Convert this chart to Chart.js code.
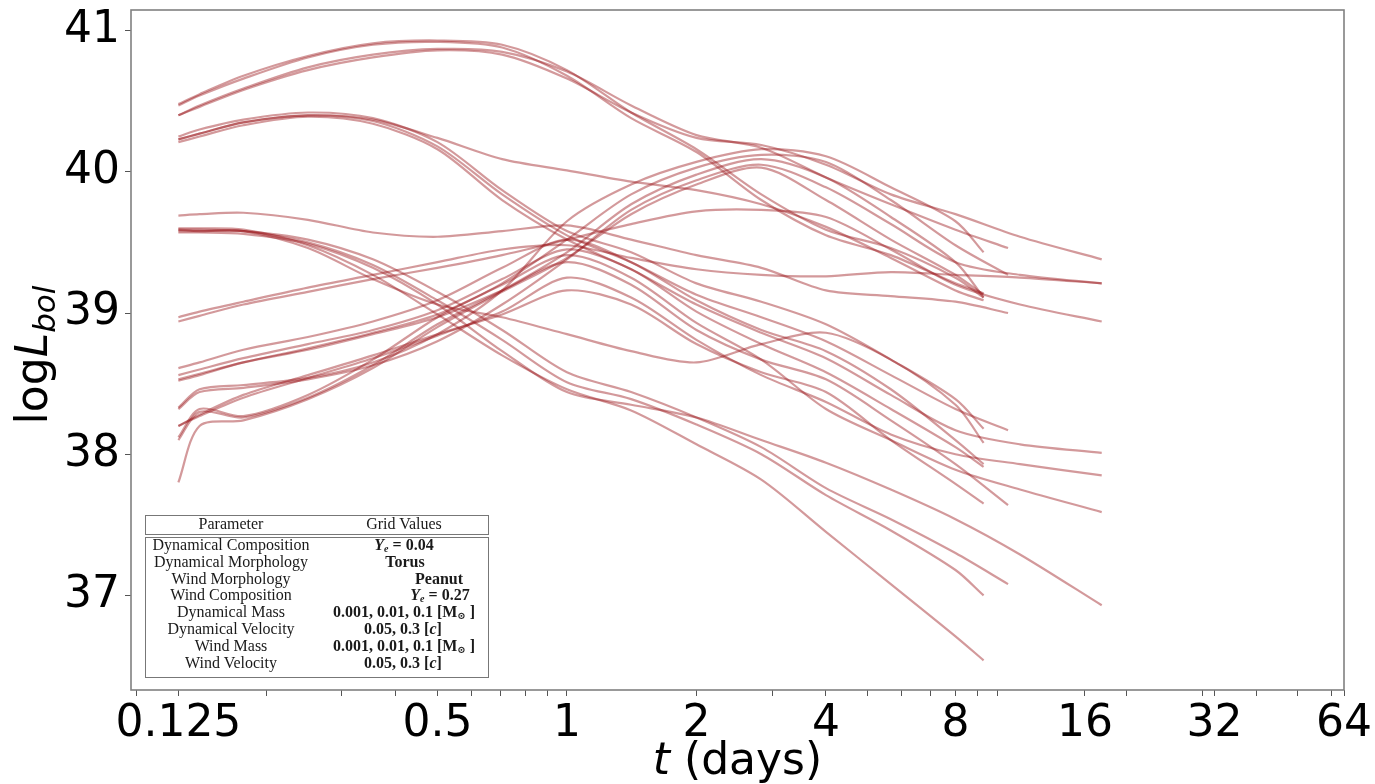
<!DOCTYPE html>
<html>
<head>
<meta charset="utf-8">
<script src="https://cdn.jsdelivr.net/npm/chart.js@4.4.0/dist/chart.umd.min.js"></script>
<style>
  html, body { margin: 0; padding: 0; background: #fff; }
  #wrap { position: relative; width: 1375px; height: 784px; overflow: hidden; }
  #lc { position: absolute; left: 0; top: 0; }
  #table { position: absolute; left: 0; top: 0; font-family: "Liberation Serif", "DejaVu Serif", serif; font-size: 16px; color: #1a1a1a; }
  .box { position: absolute; border: 1px solid #777; box-sizing: border-box; background: #fff; }
  .cell { position: absolute; transform: translate(-50%, -50%); white-space: nowrap; line-height: 1; }
  .cell sub { font-size: 10px; vertical-align: -2px; }
</style>
</head>
<body>
<div id="wrap">
  <canvas id="lc" width="1375" height="784"></canvas>
  <div id="table"></div>
</div>
<script>
// time grids (days) for the three run lengths
const tShort = [0.125, 0.14, 0.177, 0.25, 0.354, 0.5, 0.707, 1, 1.41, 2, 2.83, 4, 5.66, 8, 9.3];
const tMid   = [0.125, 0.14, 0.177, 0.25, 0.354, 0.5, 0.707, 1, 1.41, 2, 2.83, 4, 5.66, 8, 10.6];
const tLong  = [0.125, 0.14, 0.177, 0.25, 0.354, 0.5, 0.707, 1, 1.41, 2, 2.83, 4, 5.66, 8, 11.3, 17.5];

// log L_bol
const curvesShort = [
  [40.48,40.55,40.68,40.82,40.91,40.93,40.90,40.72,40.42,40.16,39.84,39.59,39.46,39.25,39.11],
  [40.47,40.54,40.66,40.81,40.90,40.92,40.88,40.68,40.38,40.14,39.80,39.55,39.41,39.21,39.14],
  [38.33,38.46,38.49,38.54,38.65,38.85,39.16,39.65,39.91,40.07,40.16,40.11,39.89,39.65,39.43],
  [38.10,38.30,38.26,38.40,38.63,38.92,39.16,39.43,39.77,39.98,40.09,39.96,39.68,39.36,39.11],
  [37.80,38.20,38.24,38.39,38.61,38.90,39.15,39.39,39.70,39.91,40.03,39.80,39.52,39.27,39.13],
  [40.23,40.27,40.35,40.40,40.37,40.24,40.09,40.01,39.93,39.87,39.77,39.61,39.39,39.16,39.09],
  [40.25,40.30,40.37,40.42,40.38,40.21,39.87,39.58,39.43,39.21,39.08,38.92,38.67,38.39,38.18],
  [39.59,39.58,39.58,39.46,39.24,39.06,38.97,38.85,38.73,38.65,38.78,38.86,38.67,38.35,38.08],
  [38.61,38.65,38.74,38.83,38.94,39.09,39.32,39.52,39.36,39.09,38.88,38.73,38.46,38.10,37.93],
  [38.56,38.60,38.68,38.78,38.88,39.02,39.24,39.45,39.31,39.01,38.78,38.58,38.32,38.05,37.91],
  [38.20,38.28,38.42,38.56,38.70,38.85,38.99,39.16,39.06,38.78,38.58,38.44,38.10,37.79,37.65],
  [39.60,39.60,39.59,39.48,39.27,38.99,38.70,38.46,38.31,38.07,37.82,37.45,37.08,36.71,36.54],
  [39.59,39.59,39.58,39.50,39.34,39.09,38.81,38.51,38.39,38.21,38.00,37.71,37.46,37.18,37.00]
];
const curvesMid = [
  [40.40,40.47,40.59,40.74,40.83,40.87,40.85,40.71,40.47,40.26,40.17,39.96,39.77,39.59,39.46],
  [38.12,38.32,38.27,38.42,38.67,38.97,39.21,39.52,39.84,40.03,40.12,40.07,39.80,39.48,39.27],
  [39.69,39.70,39.71,39.66,39.57,39.54,39.58,39.62,39.52,39.41,39.32,39.16,39.12,39.08,39.00],
  [40.23,40.27,40.35,40.40,40.36,40.18,39.84,39.55,39.36,39.13,38.97,38.80,38.56,38.32,38.17],
  [38.52,38.56,38.65,38.74,38.85,38.97,39.16,39.36,39.20,38.88,38.67,38.53,38.24,37.93,37.64],
  [39.58,39.58,39.58,39.52,39.38,39.15,38.88,38.58,38.44,38.26,38.05,37.76,37.54,37.30,37.08]
];
const curvesLong = [
  [40.40,40.46,40.58,40.72,40.81,40.86,40.83,40.66,40.42,40.24,40.19,40.05,39.84,39.70,39.54,39.38],
  [38.32,38.44,38.47,38.53,38.63,38.80,39.06,39.38,39.73,39.94,40.05,39.89,39.63,39.36,39.27,39.21],
  [38.97,39.01,39.08,39.18,39.27,39.36,39.45,39.48,39.39,39.31,39.27,39.26,39.29,39.27,39.25,39.21],
  [38.94,38.98,39.06,39.15,39.24,39.32,39.41,39.52,39.63,39.72,39.73,39.68,39.45,39.20,39.06,38.94],
  [40.21,40.25,40.33,40.39,40.34,40.16,39.80,39.52,39.31,39.06,38.86,38.68,38.42,38.17,38.07,38.01],
  [38.20,38.27,38.40,38.54,38.68,38.84,39.01,39.25,39.11,38.81,38.56,38.37,38.14,38.00,37.93,37.85],
  [38.53,38.57,38.65,38.75,38.86,38.99,39.20,39.41,39.25,38.93,38.67,38.32,38.10,37.89,37.75,37.59],
  [39.57,39.57,39.56,39.49,39.32,39.06,38.73,38.44,38.35,38.26,38.10,37.94,37.75,37.54,37.29,36.93]
];

const xMajor = [0.125, 0.5, 1, 2, 4, 8, 16, 32, 64];
const xMinor = [0.1, 0.2, 0.3, 0.4, 0.6, 0.7, 0.8, 0.9, 3, 5, 6, 7, 9, 10, 20, 30, 40, 50, 60];
const yTicks = [37, 38, 39, 40, 41];

const paramNames = ["Dynamical Composition", "Dynamical Morphology", "Wind Morphology", "Wind Composition",
                    "Dynamical Mass", "Dynamical Velocity", "Wind Mass", "Wind Velocity"];
const gridValues = ["<i>Y</i><sub><i>e</i></sub> = 0.04", "Torus", "Peanut", "<i>Y</i><sub><i>e</i></sub> = 0.27",
                    "0.001, 0.01, 0.1 [M<sub>⊙</sub> ]", "0.05, 0.3 [<i>c</i>]",
                    "0.001, 0.01, 0.1 [M<sub>⊙</sub> ]", "0.05, 0.3 [<i>c</i>]"];

const lineColor = 'rgba(155, 22, 28, 0.44)';

function makeSet(times, vals) {
  return {
    data: vals.map((v, i) => ({ x: times[i], y: v })),
    borderColor: lineColor,
    borderWidth: 2.2,
    pointRadius: 0,
    fill: false,
    tension: 0.3
  };
}

const datasets = [
  ...curvesShort.map(c => makeSet(tShort, c)),
  ...curvesMid.map(c => makeSet(tMid, c)),
  ...curvesLong.map(c => makeSet(tLong, c))
];

// frame around the plot area
const framePlugin = {
  id: 'frame',
  afterDraw(chart) {
    const a = chart.chartArea, ctx = chart.ctx;
    ctx.save();
    ctx.strokeStyle = '#808080';
    ctx.lineWidth = 1.6;
    ctx.strokeRect(a.left, a.top, a.right - a.left, a.bottom - a.top);
    ctx.restore();
  }
};

// axis titles with italic / subscript parts
const titlePlugin = {
  id: 'titles',
  afterDraw(chart) {
    const ctx = chart.ctx, a = chart.chartArea;
    ctx.save();
    ctx.fillStyle = '#000';
    ctx.textBaseline = 'alphabetic';
    // x title: "t (days)"
    const f1 = 'italic 44px "DejaVu Sans"', f2 = '44px "DejaVu Sans"';
    ctx.font = f1; const w1 = ctx.measureText('t').width;
    ctx.font = f2; const w2 = ctx.measureText(' (days)').width;
    let x0 = (a.left + a.right) / 2 - (w1 + w2) / 2;
    ctx.font = f1; ctx.fillText('t', x0, 774);
    ctx.font = f2; ctx.fillText(' (days)', x0 + w1, 774);
    // y title: "log L_bol"
    ctx.translate(47, 355);
    ctx.rotate(-Math.PI / 2);
    const fs = 'italic 31px "DejaVu Sans"';
    ctx.font = f2; const wa = ctx.measureText('log').width;
    ctx.font = f1; const wb = ctx.measureText('L').width;
    ctx.font = fs; const wc = ctx.measureText('bol').width;
    let s = -(wa + wb + wc) / 2;
    ctx.font = f2; ctx.fillText('log', s, 0);
    ctx.font = f1; ctx.fillText('L', s + wa, 0);
    ctx.font = fs; ctx.fillText('bol', s + wa + wb, 8);
    ctx.restore();
  }
};

new Chart(document.getElementById('lc').getContext('2d'), {
  type: 'line',
  data: { datasets },
  plugins: [framePlugin, titlePlugin],
  options: {
    responsive: false,
    animation: false,
    devicePixelRatio: 1,
    layout: { padding: { left: 0, top: 10, right: 31, bottom: 0 } },
    plugins: { legend: { display: false }, tooltip: { enabled: false } },
    scales: {
      x: {
        type: 'logarithmic',
        min: 0.097,
        max: 64,
        border: { display: false },
        grid: { drawOnChartArea: false, drawTicks: true, tickLength: 6, tickColor: '#555' },
        afterBuildTicks(scale) {
          scale.ticks = [...xMajor, ...xMinor].sort((p, q) => p - q).map(v => ({ value: v, major: xMajor.includes(v) }));
        },
        afterFit(scale) {
          scale.height = 94;
          scale.paddingLeft = 0;
          scale.paddingRight = 0;
        },
        ticks: {
          autoSkip: false,
          maxRotation: 0,
          minRotation: 0,
          padding: 2,
          color: '#000',
          font: { family: 'DejaVu Sans', size: 44 },
          callback: (v) => xMajor.includes(v) ? String(v) : ''
        }
      },
      y: {
        type: 'linear',
        min: 36.33,
        max: 41.146,
        border: { display: false },
        grid: { drawOnChartArea: false, drawTicks: true, tickLength: 6, tickColor: '#555' },
        afterBuildTicks(scale) { scale.ticks = yTicks.map(v => ({ value: v })); },
        afterFit(scale) {
          scale.width = 131;
          scale.paddingTop = 0;
          scale.paddingBottom = 0;
        },
        ticks: {
          padding: 5,
          color: '#000',
          font: { family: 'DejaVu Sans', size: 44 },
          callback: (v) => String(v)
        }
      }
    }
  }
});

// parameter table inset
const tbl = document.getElementById('table');
const valueX = [404, 405, 439, 440, 404, 403, 404, 403];
let html = '<div class="box" style="left:145px;top:515px;width:344px;height:20px"></div>' +
           '<div class="box" style="left:145px;top:537px;width:344px;height:141px"></div>' +
           '<div class="cell" style="left:231px;top:524px">Parameter</div>' +
           '<div class="cell" style="left:404px;top:524px">Grid Values</div>';
paramNames.forEach((p, i) => {
  const y = 545 + i * 16.8;
  html += `<div class="cell" style="left:231px;top:${y}px">${p}</div>`;
  html += `<div class="cell" style="left:${valueX[i]}px;top:${y}px"><b>${gridValues[i]}</b></div>`;
});
tbl.innerHTML = html;
</script>
</body>
</html>
